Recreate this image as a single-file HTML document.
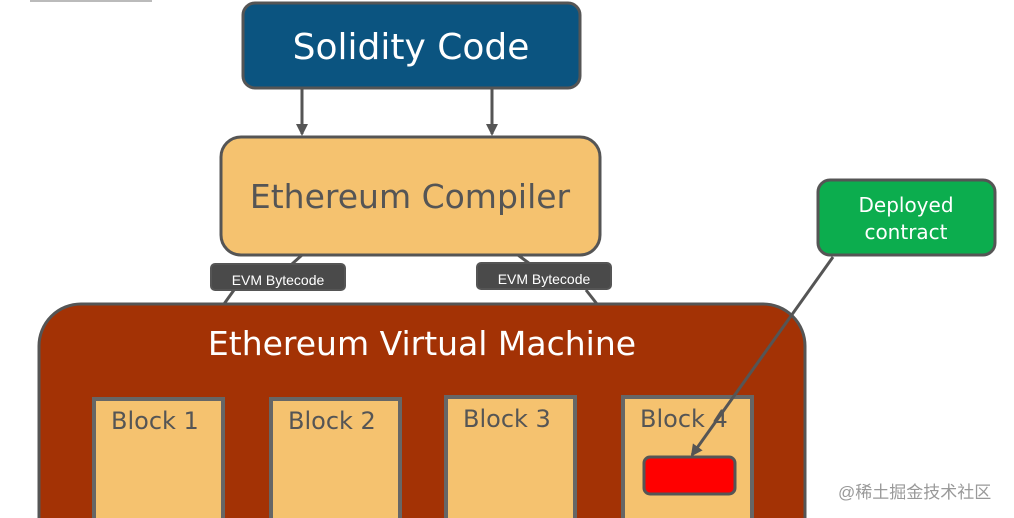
<!DOCTYPE html>
<html><head><meta charset="utf-8"><style>html,body{margin:0;padding:0;background:#fff;overflow:hidden;width:1014px;height:518px}svg{display:block}</style></head><body>
<svg width="1014" height="518" viewBox="0 0 1014 518" xmlns="http://www.w3.org/2000/svg" font-family="'DejaVu Sans','Liberation Sans',sans-serif">
<defs><marker id="b" markerWidth="12" markerHeight="12" refX="10" refY="6" orient="auto" markerUnits="userSpaceOnUse"><path d="M0,0 L12,6 L0,12 Z" fill="#555"/></marker></defs>
<rect x="30" y="0" width="122" height="2" fill="#bbb"/>
<rect x="243" y="3" width="337" height="85" rx="12" fill="#0b5480" stroke="#555" stroke-width="3"/>
<text x="411" y="59" font-size="36" fill="#fff" text-anchor="middle">Solidity Code</text>
<line x1="302" y1="89" x2="302" y2="134" stroke="#555" stroke-width="3" marker-end="url(#b)"/>
<line x1="492" y1="89" x2="492" y2="134" stroke="#555" stroke-width="3" marker-end="url(#b)"/>
<rect x="221" y="137" width="379" height="118" rx="20" fill="#f5c26f" stroke="#555" stroke-width="3"/>
<text x="410" y="208" font-size="33" fill="#555" text-anchor="middle">Ethereum Compiler</text>
<line x1="302" y1="255" x2="292" y2="264" stroke="#555" stroke-width="3"/>
<line x1="518" y1="255" x2="530" y2="264" stroke="#555" stroke-width="3"/>
<line x1="234" y1="290" x2="224" y2="304" stroke="#555" stroke-width="3"/>
<line x1="586" y1="290" x2="597" y2="304" stroke="#555" stroke-width="3"/>
<rect x="211" y="264" width="134" height="26" rx="4" fill="#4a4a4a" stroke="#555" stroke-width="2"/>
<text x="278" y="285" font-size="14" fill="#fff" text-anchor="middle" font-family="'Liberation Sans',sans-serif">EVM Bytecode</text>
<rect x="477" y="263" width="134" height="26" rx="4" fill="#4a4a4a" stroke="#555" stroke-width="2"/>
<text x="544" y="284" font-size="14" fill="#fff" text-anchor="middle" font-family="'Liberation Sans',sans-serif">EVM Bytecode</text>
<path d="M39,518 V346 A42,42 0 0 1 81,304 H763 A42,42 0 0 1 805,346 V518" fill="#a33205" stroke="#555" stroke-width="3"/>
<text x="422" y="355" font-size="33" fill="#fff" text-anchor="middle">Ethereum Virtual Machine</text>
<g fill="#f5c26f" stroke="#666" stroke-width="4">
<path d="M94,518 V399 H223 V518"/>
<path d="M271,518 V399 H400 V518"/>
<path d="M446,518 V397 H575 V518"/>
<path d="M623,518 V397 H752 V518"/>
</g>
<g font-size="24" fill="#555">
<text x="111" y="429">Block 1</text>
<text x="288" y="429">Block 2</text>
<text x="463" y="427">Block 3</text>
<text x="640" y="427">Block 4</text>
</g>
<rect x="644" y="457" width="91" height="37" rx="6" fill="#ff0000" stroke="#555" stroke-width="3"/>
<rect x="818" y="180" width="177" height="75" rx="12" fill="#0cad4e" stroke="#555" stroke-width="3"/>
<text x="906" y="212" font-size="20" fill="#fff" text-anchor="middle">Deployed</text>
<text x="906" y="239" font-size="20" fill="#fff" text-anchor="middle">contract</text>
<line x1="833" y1="257" x2="692" y2="455" stroke="#555" stroke-width="3" marker-end="url(#b)"/>
<text x="838" y="498" font-size="17" fill="#999" font-family="'Liberation Sans','Noto Sans CJK SC',sans-serif">@稀土掘金技术社区</text>
</svg>
</body></html>
